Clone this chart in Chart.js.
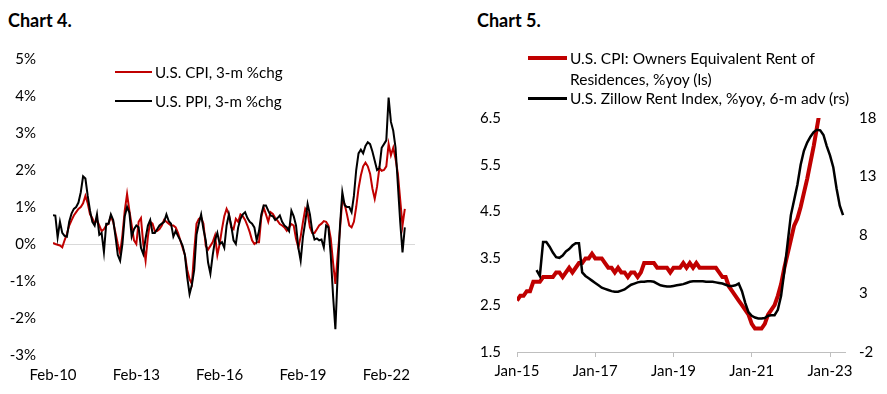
<!DOCTYPE html>
<html><head><meta charset="utf-8">
<script src="https://cdn.jsdelivr.net/npm/chart.js@4"></script>
<style>
body{margin:0;background:#fff;width:887px;height:394px;overflow:hidden;position:relative;font-family:Lato,'Open Sans',sans-serif;color:#000;}
.title{position:absolute;font-weight:bold;font-size:18px;line-height:20px;}
.wrap{position:absolute;top:0;height:394px;}
.leg{position:absolute;line-height:20px;white-space:nowrap;}
.sw{position:absolute;}
</style></head><body>
<div class="title" style="left:8px;top:10px;">Chart 4.</div>
<div class="title" style="left:477px;top:10px;">Chart 5.</div>
<div class="wrap" style="left:0;width:440px;"><canvas id="c4" width="440" height="394"></canvas></div>
<div class="wrap" style="left:440px;width:447px;"><canvas id="c5" width="447" height="394"></canvas></div>
<div id="legends"></div>
<script>
// ---------- Chart 4 data (monthly, Feb-10 onward) ----------
const xLabels4 = ['Feb-10','Feb-13','Feb-16','Feb-19','Feb-22'];
const yTicks4 = [-3,-2,-1,0,1,2,3,4,5];
const cpiLabel4 = 'U.S. CPI, 3-m %chg';
const ppiLabel4 = 'U.S. PPI, 3-m %chg';
const cpi4 = [0.03,0.0,-0.02,-0.04,-0.09,0.1,0.27,0.5,0.64,0.77,
0.86,0.95,1.0,1.1,1.3,1.1,0.8,0.7,0.55,0.65,
0.5,0.35,0.4,0.5,0.55,0.75,0.6,0.3,0.0,-0.25,
0.25,0.9,1.35,0.9,0.5,0.1,0.0,0.6,0.7,0.0,
-0.45,0.2,0.6,0.55,0.35,0.35,0.4,0.5,0.65,0.6,
0.55,0.5,0.5,0.45,0.3,0.1,-0.1,-0.3,-0.7,-0.95,
-1.08,-0.2,0.55,0.68,0.72,0.55,-0.05,-0.15,-0.05,0.05,
0.23,-0.3,0.0,0.4,0.75,0.95,0.8,0.45,0.4,0.68,
0.6,0.8,0.75,0.65,0.5,0.32,0.1,0.0,0.05,0.05,
0.72,0.99,0.8,0.6,0.86,0.81,0.7,0.63,0.54,0.5,
0.45,0.36,0.45,0.54,0.5,0.14,-0.1,0.2,0.6,0.95,
0.85,0.45,0.3,0.3,0.4,0.5,0.55,0.62,0.6,0.5,
0.15,-0.5,-1.08,-0.3,0.4,1.2,1.08,0.8,0.5,0.45,
0.6,1.0,1.5,1.85,2.1,2.2,2.1,1.9,1.5,1.22,
1.55,2.05,1.98,2.0,2.1,2.7,2.4,2.6,2.3,1.9,
1.2,0.5,0.95];
const ppi4 = [0.78,0.77,0.18,0.6,0.3,0.22,0.2,0.6,0.82,0.95,
1.0,1.12,1.4,1.83,1.77,1.3,0.9,0.6,0.5,0.8,
0.25,0.3,-0.22,0.55,0.55,0.8,0.65,0.2,-0.3,-0.45,
0.0,0.75,1.0,0.85,0.2,0.4,0.5,0.45,-0.1,-0.27,
0.15,0.5,0.65,0.3,0.3,0.4,0.5,0.55,0.6,0.8,
0.62,0.55,0.2,0.35,0.22,0.1,-0.05,-0.3,-0.9,-1.35,
-1.1,-0.7,0.25,0.55,0.8,0.4,0.1,-0.5,-0.8,-0.3,
0.1,0.3,0.0,0.05,-0.1,0.5,0.8,0.5,0.1,0.0,
0.45,0.68,0.8,0.86,0.7,0.6,0.55,0.45,0.1,0.35,
0.8,1.04,1.04,0.9,0.77,0.75,0.65,0.7,0.77,0.6,
0.5,0.45,0.35,0.9,0.75,0.5,-0.1,-0.45,0.2,0.6,
1.08,0.8,0.35,0.12,0.15,0.1,0.12,-0.09,0.5,0.45,
-0.3,-1.4,-2.3,-0.8,0.5,1.4,1.05,1.0,1.0,0.86,
1.3,2.0,2.45,2.55,2.45,2.65,2.75,2.7,2.5,2.25,
2.0,2.05,2.6,2.7,2.8,3.96,3.3,3.06,2.6,1.6,
0.6,-0.23,0.45];
const monthsPerLabel4 = 36;

// ---------- Chart 5 data (monthly, Jan-15 onward) ----------
const xLabels5 = ['Jan-15','Jan-17','Jan-19','Jan-21','Jan-23'];
const yTicks5L = [1.5,2.5,3.5,4.5,5.5,6.5];
const yTicks5R = [-2,3,8,13,18];
const oerLabel = ['U.S. CPI: Owners Equivalent Rent of','Residences, %yoy (ls)'];
const zillowLabel = 'U.S. Zillow Rent Index, %yoy, 6-m adv (rs)';
const oer5 = [2.6,2.7,2.7,2.8,2.8,3.0,3.0,3.0,3.1,3.1,
3.1,3.1,3.2,3.2,3.1,3.2,3.3,3.2,3.3,3.4,
3.4,3.5,3.5,3.6,3.5,3.5,3.5,3.4,3.3,3.3,
3.2,3.3,3.2,3.2,3.1,3.2,3.2,3.1,3.2,3.4,
3.4,3.4,3.4,3.3,3.3,3.3,3.3,3.2,3.3,3.3,
3.3,3.4,3.3,3.4,3.3,3.4,3.3,3.3,3.3,3.3,
3.3,3.3,3.2,3.1,3.1,2.9,2.8,2.7,2.6,2.5,
2.4,2.3,2.1,2.0,2.0,2.0,2.1,2.3,2.4,2.5,
2.7,2.95,3.3,3.6,3.9,4.2,4.35,4.6,4.9,5.2,
5.55,5.9,6.3,6.7];
const zillow5 = [null,null,null,null,null,null,5.0,4.5,7.4,7.4,
7.0,6.5,6.1,6.05,6.25,6.6,6.8,7.1,7.3,7.3,
4.8,4.5,4.3,4.1,3.9,3.7,3.5,3.4,3.3,3.2,
3.15,3.15,3.25,3.35,3.55,3.75,3.85,3.95,4.0,4.0,
4.05,4.05,4.0,3.85,3.7,3.65,3.6,3.6,3.65,3.7,
3.75,3.8,3.9,4.0,4.05,4.05,4.05,4.05,4.0,4.0,
4.0,3.95,3.9,3.85,3.75,3.65,3.65,3.7,3.85,3.2,
2.2,1.4,1.1,0.95,0.86,0.86,0.9,1.1,1.15,1.15,
1.6,2.8,4.9,7.3,9.7,11.0,12.3,14.0,15.2,15.9,
16.4,16.8,17.0,16.95,16.55,15.6,14.8,13.8,12.0,10.5,
9.7];
const monthsPerLabel5 = 24;

const RED = '#c00000';
const FONT = 'Lato';
const tickFont = {family: FONT, size: 15};

const pts = arr => arr.map((v,i)=>({x:i,y:v}));

// ---------- Chart 4 ----------
new Chart(document.getElementById('c4'), {
  type:'line',
  data:{datasets:[
    {label:cpiLabel4, data:pts(cpi4), borderColor:RED, borderWidth:2, pointRadius:0, order:1, fill:false},
    {label:ppiLabel4, data:pts(ppi4), borderColor:'#000', borderWidth:2, pointRadius:0, order:0, fill:false}
  ]},
  options:{
    responsive:false, animation:false, devicePixelRatio:1,
    layout:{padding:{top:59,right:25,left:0,bottom:0}},
    plugins:{legend:{display:false}, tooltip:{enabled:false}},
    scales:{
      x:{type:'linear', min:0, max:156.4,
        afterBuildTicks:s=>{s.ticks = xLabels4.map((l,i)=>({value:i*monthsPerLabel4}));},
        ticks:{callback:(v)=>xLabels4[Math.round(v/monthsPerLabel4)], padding:11, maxRotation:0, autoSkip:false, font:tickFont, color:'#000'},
        grid:{display:false, drawTicks:false}, border:{display:false},
        afterFit:s=>{s.height=39;}
      },
      y:{min:-3, max:5,
        afterBuildTicks:s=>{s.ticks = yTicks4.map(v=>({value:v}));},
        ticks:{callback:v=>v+'%', padding:17, font:tickFont, color:'#000'},
        grid:{color:c=>c.tick && c.tick.value===0 ? '#d9d9d9':'rgba(0,0,0,0)', drawTicks:false, lineWidth:1},
        border:{display:false},
        afterFit:s=>{s.width=53;}
      }
    }
  }
});

// ---------- Chart 5 ----------
new Chart(document.getElementById('c5'), {
  type:'line',
  data:{datasets:[
    {label:oerLabel.join(' '), data:pts(oer5), yAxisID:'y', borderColor:RED, borderWidth:4, pointRadius:0, order:1, clip:0, fill:false},
    {label:zillowLabel, data:pts(zillow5), yAxisID:'y1', borderColor:'#000', borderWidth:2.5, pointRadius:0, order:0, clip:0, fill:false, spanGaps:false}
  ]},
  options:{
    responsive:false, animation:false, devicePixelRatio:1,
    layout:{padding:{top:118,right:0,left:0,bottom:0}},
    plugins:{legend:{display:false}, tooltip:{enabled:false}},
    scales:{
      x:{type:'linear', min:0, max:100.6,
        afterBuildTicks:s=>{s.ticks = xLabels5.map((l,i)=>({value:i*monthsPerLabel5}));},
        ticks:{callback:(v)=>xLabels5[Math.round(v/monthsPerLabel5)], padding:5, maxRotation:0, autoSkip:false, font:tickFont, color:'#000'},
        grid:{display:true, drawOnChartArea:false, drawTicks:true, tickLength:5, color:'#bfbfbf'},
        border:{display:true, color:'#bfbfbf', width:1},
        afterFit:s=>{s.height=42;}
      },
      y:{position:'left', min:1.5, max:6.5,
        afterBuildTicks:s=>{s.ticks = yTicks5L.map(v=>({value:v}));},
        ticks:{callback:v=>v.toFixed(1), padding:16, font:tickFont, color:'#000'},
        grid:{display:false, drawTicks:false}, border:{display:false},
        afterFit:s=>{s.width=77;}
      },
      y1:{position:'right', min:-2, max:18,
        afterBuildTicks:s=>{s.ticks = yTicks5R.map(v=>({value:v}));},
        ticks:{callback:v=>String(v), padding:14, font:tickFont, color:'#000'},
        grid:{display:false, drawTicks:false}, border:{display:false},
        afterFit:s=>{s.width=42;}
      }
    }
  }
});

// ---------- HTML legends ----------
function legendItem(x, y, len, width, color, lines, fs){
  let h = '<div class="sw" style="left:'+x+'px;top:'+(y-width/2)+'px;width:'+len+'px;height:'+width+'px;background:'+color+'"></div>';
  lines.forEach((t,i)=>{
    h += '<div class="leg" style="font-size:'+fs+'px;left:'+(x+len+3)+'px;top:'+(y-10+i*21)+'px">'+t+'</div>';
  });
  return h;
}
let lg = '';
lg += legendItem(115, 72, 37, 2, RED, [cpiLabel4], 15.2);
lg += legendItem(115, 101, 37, 2, '#000', [ppiLabel4], 15.2);
lg += legendItem(528, 58, 39, 4, RED, oerLabel, 15.5);
lg += legendItem(528, 98, 39, 3, '#000', [zillowLabel], 15.5);
document.getElementById('legends').innerHTML = lg;
</script>
</body></html>
